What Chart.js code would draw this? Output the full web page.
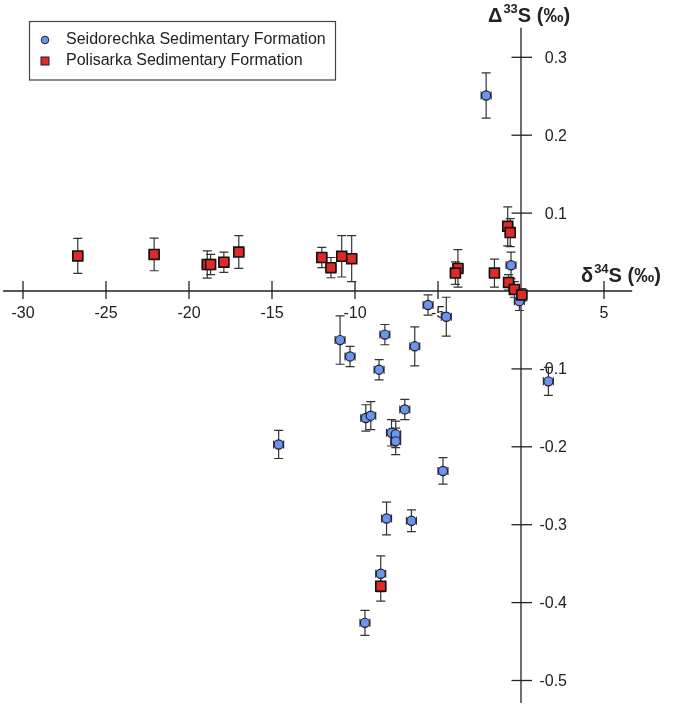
<!DOCTYPE html>
<html>
<head>
<meta charset="utf-8">
<title>Δ33S vs δ34S</title>
<script src="https://cdn.jsdelivr.net/npm/chart.js@4.4.1/dist/chart.umd.min.js"></script>
<style>
    html, body { margin: 0; padding: 0; background: #fff; }
    #wrap { width: 677px; height: 707px; }
</style>
</head>
<body>
<div id="wrap"><canvas id="sulfurChart" width="677" height="707"></canvas></div>
<script>
// Seidorechka Sedimentary Formation (blue circles)
const seidX = [-2.1, -0.6, -0.1, 1.65, -5.6, -4.5, -10.9, -10.3, -8.2, -6.4, -8.55, -9.35,
               -9.05, -7.0, -7.8, -7.55, -7.55, -14.6, -4.7, -8.1, -6.6, -8.45, -9.4];
const seidY = [0.251, 0.033, -0.013, -0.116, -0.018, -0.033, -0.063, -0.084, -0.056, -0.071, -0.101, -0.163,
               -0.160, -0.152, -0.182, -0.184, -0.193, -0.197, -0.231, -0.292, -0.295, -0.363, -0.426];
const seidYErr = [0.029, 0.017, 0.012, 0.018, 0.013, 0.025, 0.031, 0.013, 0.013, 0.025, 0.013, 0.017,
                  0.018, 0.013, 0.017, 0.017, 0.017, 0.018, 0.017, 0.021, 0.014, 0.023, 0.016];

// Polisarka Sedimentary Formation (red squares)
const polX = [-26.7, -22.1, -18.9, -18.7, -17.9, -17.0, -12.0, -11.45, -10.8, -10.2,
              -3.8, -3.95, -1.6, -0.8, -0.65, -0.75, -0.4, 0.05, -8.45];
const polY = [0.045, 0.047, 0.034, 0.034, 0.037, 0.050, 0.043, 0.030, 0.0445, 0.0415,
              0.029, 0.023, 0.023, 0.083, 0.075, 0.011, 0.002, -0.005, -0.379];
const polYErr = [0.0225, 0.021, 0.0175, 0.013, 0.013, 0.021, 0.013, 0.013, 0.0265, 0.0295,
                 0.024, 0.0145, 0.018, 0.025, 0.018, 0.01, 0.01, 0.008, 0.019];

// analytical uncertainty on d34S (same for all)
const xErr = 0.3;

// tick labels
const xTicks = [-30, -25, -20, -15, -10, -5, 5];
const yTicks = [0.3, 0.2, 0.1, -0.1, -0.2, -0.3, -0.4, -0.5];

const seriesNames = ['Seidorechka Sedimentary Formation', 'Polisarka Sedimentary Formation'];

const FONT = '"Liberation Sans", Arial, sans-serif';
const INK = '#222';

function toPoints(xs, ys) {
    return xs.map((x, i) => ({ x: x, y: ys[i] }));
}

// Draw the crossing axes, ticks, tick labels and titles (under the points)
const crossAxesPlugin = {
    id: 'crossAxes',
    beforeDatasetsDraw(chart) {
        const ctx = chart.ctx;
        const xs = chart.scales.x;
        const ys = chart.scales.y;
        const x0 = xs.getPixelForValue(0);
        const y0 = ys.getPixelForValue(0);

        ctx.save();
        ctx.strokeStyle = INK;
        ctx.lineWidth = 1.3;

        // axis lines
        ctx.beginPath();
        ctx.moveTo(xs.getPixelForValue(-31.2), y0);
        ctx.lineTo(xs.getPixelForValue(6.7), y0);
        ctx.moveTo(x0, ys.getPixelForValue(0.338));
        ctx.lineTo(x0, ys.getPixelForValue(-0.529));
        ctx.stroke();

        // x ticks
        ctx.fillStyle = INK;
        ctx.font = '16px ' + FONT;
        ctx.textAlign = 'center';
        ctx.textBaseline = 'middle';
        xTicks.forEach(v => {
            const px = xs.getPixelForValue(v);
            ctx.beginPath();
            ctx.moveTo(px, y0 - 10);
            ctx.lineTo(px, y0 + 8);
            ctx.stroke();
            ctx.fillText(String(v), px, y0 + 23);
        });

        // y ticks
        ctx.textAlign = 'right';
        yTicks.forEach(v => {
            const py = ys.getPixelForValue(v);
            ctx.beginPath();
            ctx.moveTo(x0 - 9.5, py);
            ctx.lineTo(x0 + 11, py);
            ctx.stroke();
            ctx.fillText(String(v), x0 + 46, py + 1);
        });

        // axis titles
        ctx.textAlign = 'left';
        ctx.textBaseline = 'alphabetic';
        drawTitle(ctx, '\u0394', '33', 'S (\u2030)', 488, 22);
        drawTitle(ctx, '\u03b4', '34', 'S (\u2030)', 581, 282);

        // error bars
        ctx.strokeStyle = '#333';
        ctx.lineWidth = 1.2;
        drawErrors(ctx, xs, ys, seidX, seidY, seidYErr);
        drawErrors(ctx, xs, ys, polX, polY, polYErr);
        ctx.restore();
    }
};

function drawTitle(ctx, head, sup, tail, x, baseline) {
    ctx.font = 'bold 20px ' + FONT;
    ctx.fillText(head, x, baseline);
    let cx = x + ctx.measureText(head).width + 1;
    ctx.font = 'bold 13px ' + FONT;
    ctx.fillText(sup, cx, baseline - 9);
    cx += ctx.measureText(sup).width;
    ctx.font = 'bold 20px ' + FONT;
    ctx.fillText(tail, cx, baseline);
}

function drawErrors(ctx, xs, ys, xv, yv, ye) {
    const cap = 4.5;
    xv.forEach((x, i) => {
        const px = xs.getPixelForValue(x);
        const py = ys.getPixelForValue(yv[i]);
        const top = ys.getPixelForValue(yv[i] + ye[i]);
        const bot = ys.getPixelForValue(yv[i] - ye[i]);
        const lft = xs.getPixelForValue(x - xErr);
        const rgt = xs.getPixelForValue(x + xErr);
        ctx.beginPath();
        ctx.moveTo(px, top); ctx.lineTo(px, bot);
        ctx.moveTo(px - cap, top); ctx.lineTo(px + cap, top);
        ctx.moveTo(px - cap, bot); ctx.lineTo(px + cap, bot);
        ctx.moveTo(lft, py); ctx.lineTo(rgt, py);
        ctx.moveTo(lft, py - 4); ctx.lineTo(lft, py + 4);
        ctx.moveTo(rgt, py - 4); ctx.lineTo(rgt, py + 4);
        ctx.stroke();
    });
}

// Boxed legend in the top-left corner
const boxLegendPlugin = {
    id: 'boxLegend',
    afterDraw(chart) {
        const ctx = chart.ctx;
        ctx.save();
        ctx.fillStyle = '#fff';
        ctx.strokeStyle = '#444';
        ctx.lineWidth = 1.2;
        ctx.fillRect(29.5, 21.5, 306, 58.5);
        ctx.strokeRect(29.5, 21.5, 306, 58.5);

        // circle marker
        ctx.beginPath();
        ctx.arc(45, 40, 3.8, 0, Math.PI * 2);
        ctx.fillStyle = '#6b95ea';
        ctx.fill();
        ctx.strokeStyle = '#1c1c30';
        ctx.lineWidth = 1;
        ctx.stroke();
        // square marker
        ctx.fillStyle = '#e02a2a';
        ctx.fillRect(41, 57, 8, 8);
        ctx.strokeRect(41, 57, 8, 8);

        ctx.fillStyle = INK;
        ctx.font = '16px ' + FONT;
        ctx.textAlign = 'left';
        ctx.textBaseline = 'middle';
        ctx.fillText(seriesNames[0], 66, 40);
        ctx.fillText(seriesNames[1], 66, 61);
        ctx.restore();
    }
};

const ctx = document.getElementById('sulfurChart');
new Chart(ctx, {
    type: 'scatter',
    data: {
        datasets: [
            {
                label: seriesNames[1],
                data: toPoints(polX, polY),
                pointStyle: 'rect',
                pointRadius: 7,
                backgroundColor: '#e02a2a',
                borderColor: '#111',
                borderWidth: 1.6
            },
            {
                label: seriesNames[0],
                data: toPoints(seidX, seidY),
                pointStyle: 'circle',
                pointRadius: 4.6,
                backgroundColor: '#6b95ea',
                borderColor: '#1c1c30',
                borderWidth: 1.2
            }
        ]
    },
    options: {
        responsive: false,
        animation: false,
        devicePixelRatio: 1,
        layout: { padding: 0, autoPadding: false },
        plugins: {
            legend: { display: false },
            tooltip: { enabled: false }
        },
        scales: {
            x: {
                type: 'linear',
                display: false,
                min: -31.386,
                max: 9.398
            },
            y: {
                type: 'linear',
                display: false,
                min: -0.53402,
                max: 0.37356
            }
        }
    },
    plugins: [crossAxesPlugin, boxLegendPlugin]
});
</script>
</body>
</html>
